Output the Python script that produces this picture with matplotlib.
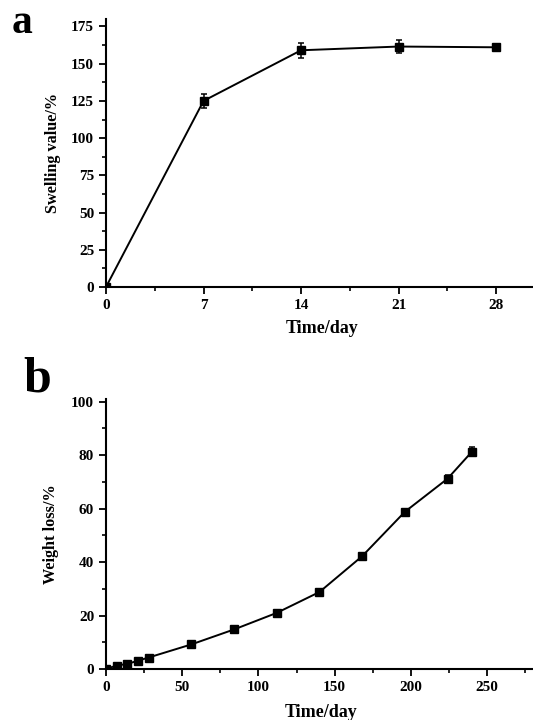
import matplotlib
matplotlib.use("Agg")
import matplotlib.pyplot as plt
from matplotlib.ticker import MultipleLocator

plt.rcParams['font.family'] = ['Liberation Serif', 'DejaVu Serif']
plt.rcParams['font.weight'] = 'bold'

# panel a: swelling
days_a = [0, 7, 14, 21, 28]
swelling = [0, 125, 159, 161.5, 161]
swelling_err = [0, 4.5, 5, 4.5, 2]

# panel b: weight loss
days_b = [0, 7, 14, 21, 28, 56, 84, 112, 140, 168, 196, 224, 240]
weight_loss = [0, 1.3, 1.9, 3.1, 4.3, 9.2, 14.8, 21.0, 28.8, 42.2, 58.8, 71.2, 81.3]
weight_err = [0, 0.3, 0.3, 0.4, 0.4, 0.5, 0.6, 0.6, 0.8, 1.0, 1.0, 1.5, 1.8]

fig = plt.figure(figsize=(5.33, 7.2), dpi=100)


def style(ax):
    for s in ['top', 'right']:
        ax.spines[s].set_visible(False)
    for s in ['left', 'bottom']:
        ax.spines[s].set_linewidth(1.5)
    ax.tick_params(which='major', direction='out', length=5, width=1.3, labelsize=11)
    ax.tick_params(which='minor', direction='out', length=3, width=1.2)
    for lab in ax.get_xticklabels() + ax.get_yticklabels():
        lab.set_fontweight('bold')


ax1 = fig.add_axes([106 / 533, 1 - 287 / 720, 432 / 533, 268 / 720])
ax1.errorbar(days_a, swelling, yerr=swelling_err, color='black', lw=1.4,
             marker='s', ms=5.5, capsize=2.5, elinewidth=1.1, capthick=1.1)
ax1.set_xlim(0, 31)
ax1.set_ylim(0, 180)
ax1.set_xticks([0, 7, 14, 21, 28])
ax1.xaxis.set_minor_locator(MultipleLocator(3.5))
ax1.set_yticks(range(0, 176, 25))
ax1.yaxis.set_minor_locator(MultipleLocator(12.5))
ax1.set_xlabel('Time/day', fontsize=13, fontweight='bold', labelpad=6)
ax1.set_ylabel('Swelling value/%', fontsize=11.7, fontweight='bold', labelpad=7)
style(ax1)

ax2 = fig.add_axes([106 / 533, 1 - 669 / 720, 430 / 533, 270 / 720])
ax2.errorbar(days_b, weight_loss, yerr=weight_err, color='black', lw=1.4,
             marker='s', ms=5.5, capsize=2.5, elinewidth=1.1, capthick=1.1)
ax2.set_xlim(0, 282)
ax2.set_ylim(0, 101)
ax2.set_xticks(range(0, 251, 50))
ax2.xaxis.set_minor_locator(MultipleLocator(25))
ax2.set_yticks(range(0, 101, 20))
ax2.yaxis.set_minor_locator(MultipleLocator(10))
ax2.set_xlabel('Time/day', fontsize=13, fontweight='bold', labelpad=7)
ax2.set_ylabel('Weight loss/%', fontsize=11.7, fontweight='bold', labelpad=9)
style(ax2)

fig.text(12 / 533, 1 - 33 / 720, 'a', fontsize=30, fontweight='bold')
fig.text(23 / 533, 1 - 392 / 720, 'b', fontsize=36, fontweight='bold')

fig.savefig('out.png', dpi=100)
